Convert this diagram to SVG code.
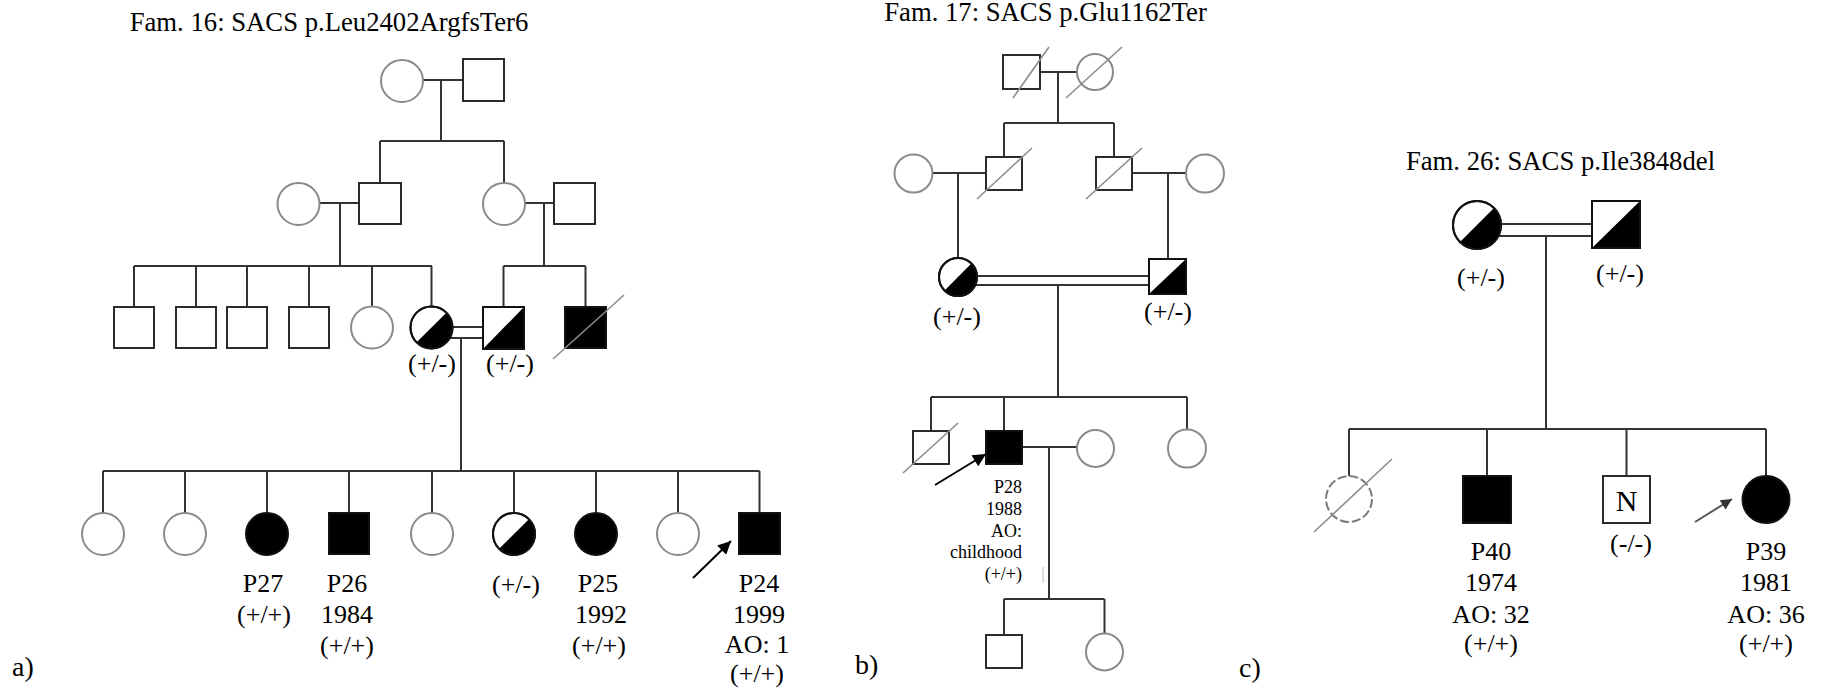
<svg xmlns="http://www.w3.org/2000/svg" width="1824" height="690" viewBox="0 0 1824 690">
  <style>
    text { font-family: "Liberation Serif", "Times New Roman", serif; fill: #000; }
    .title { font-size: 26.7px; text-anchor: middle; }
    .lbl { font-size: 26px; text-anchor: middle; }
    .small { font-size: 18px; text-anchor: end; }
    .panel { font-size: 28px; }
    .line { stroke: #333; stroke-width: 2; fill: none; }
    .sq { fill: #fff; stroke: #2b2b2b; stroke-width: 2; }
    .ci { fill: #fff; stroke: #8a8a8a; stroke-width: 2; }
    .ci-dark { fill: #fff; stroke: #1a1a1a; stroke-width: 2; }
    .filled { fill: #000; stroke: #111; stroke-width: 2; }
    .half { fill: #000; stroke: none; }
    .slash { stroke: #8c8c8c; stroke-width: 1.6; }
    .dashed { fill: #fff; stroke: #7a7a7a; stroke-width: 2; stroke-dasharray: 9 3; }
    .arrow { stroke: #000; stroke-width: 2; marker-end: url(#head); }
    .arrow-grey { stroke: #555; stroke-width: 2; marker-end: url(#head-grey); }
  </style>
  <defs>
    <marker id="head" viewBox="0 0 10 10" refX="10" refY="5" markerWidth="17" markerHeight="13" markerUnits="userSpaceOnUse" orient="auto">
      <path d="M0,0 L10,5 L0,10 z" fill="#000"/>
    </marker>
    <marker id="head-grey" viewBox="0 0 10 10" refX="10" refY="5" markerWidth="14" markerHeight="11" markerUnits="userSpaceOnUse" orient="auto">
      <path d="M0,0 L10,5 L0,10 z" fill="#333"/>
    </marker>
  </defs>
  <rect width="1824" height="690" fill="#fff"/>

  <!-- ===================== Family 16 ===================== -->
  <text class="title" x="329" y="31">Fam. 16: SACS p.Leu2402ArgfsTer6</text>
  <text class="panel" x="12" y="676">a)</text>

  <g id="f16-connectors">
    <line class="line" x1="423" y1="80" x2="463" y2="80"/>
    <line class="line" x1="441" y1="80" x2="441" y2="141"/>
    <line class="line" x1="380" y1="141" x2="504" y2="141"/>
    <line class="line" x1="380" y1="141" x2="380" y2="183"/>
    <line class="line" x1="504" y1="141" x2="504" y2="183"/>
    <line class="line" x1="319.5" y1="203" x2="359" y2="203"/>
    <line class="line" x1="340" y1="203" x2="340" y2="266"/>
    <line class="line" x1="525" y1="203" x2="554" y2="203"/>
    <line class="line" x1="544" y1="203" x2="544" y2="266"/>
    <line class="line" x1="134" y1="266" x2="432" y2="266"/>
    <line class="line" x1="134" y1="266" x2="134" y2="307"/>
    <line class="line" x1="196" y1="266" x2="196" y2="307"/>
    <line class="line" x1="247" y1="266" x2="247" y2="307"/>
    <line class="line" x1="309" y1="266" x2="309" y2="307"/>
    <line class="line" x1="372" y1="266" x2="372" y2="306.5"/>
    <line class="line" x1="431.5" y1="266" x2="431.5" y2="306.5"/>
    <line class="line" x1="503.5" y1="266" x2="585.5" y2="266"/>
    <line class="line" x1="503.5" y1="266" x2="503.5" y2="307"/>
    <line class="line" x1="585.5" y1="266" x2="585.5" y2="307"/>
    <line class="line" x1="452.5" y1="327" x2="483" y2="327"/>
    <line class="line" x1="450" y1="338" x2="483" y2="338"/>
    <line class="line" x1="461" y1="338" x2="461" y2="471"/>
    <line class="line" x1="103" y1="471" x2="759.5" y2="471"/>
    <line class="line" x1="103" y1="471" x2="103" y2="513"/>
    <line class="line" x1="185" y1="471" x2="185" y2="513"/>
    <line class="line" x1="267" y1="471" x2="267" y2="513"/>
    <line class="line" x1="349" y1="471" x2="349" y2="513"/>
    <line class="line" x1="432" y1="471" x2="432" y2="513"/>
    <line class="line" x1="514" y1="471" x2="514" y2="513"/>
    <line class="line" x1="596" y1="471" x2="596" y2="513"/>
    <line class="line" x1="678" y1="471" x2="678" y2="513"/>
    <line class="line" x1="759.5" y1="471" x2="759.5" y2="513"/>
    <line class="arrow" x1="693" y1="578" x2="731" y2="541"/>
  </g>

  <g id="f16-I-1"><circle class="ci" cx="402" cy="81" r="21"/></g>
  <g id="f16-I-2"><rect class="sq" x="463" y="59" width="41" height="42"/></g>

  <g id="f16-II-1"><circle class="ci" cx="298.5" cy="204" r="21"/></g>
  <g id="f16-II-2"><rect class="sq" x="359" y="183" width="42" height="41"/></g>
  <g id="f16-II-3"><circle class="ci" cx="504" cy="204" r="21"/></g>
  <g id="f16-II-4"><rect class="sq" x="554" y="183" width="41" height="41"/></g>

  <g id="f16-III-1"><rect class="sq" x="114" y="307" width="40" height="41"/></g>
  <g id="f16-III-2"><rect class="sq" x="176" y="307" width="40" height="41"/></g>
  <g id="f16-III-3"><rect class="sq" x="227" y="307" width="40" height="41"/></g>
  <g id="f16-III-4"><rect class="sq" x="289" y="307" width="40" height="41"/></g>
  <g id="f16-III-5"><circle class="ci" cx="372" cy="327.5" r="21"/></g>
  <g id="f16-III-6">
    <circle class="ci-dark" cx="431.5" cy="327.5" r="21"/>
    <path class="half" d="M416.65,342.35 A21,21 0 0 0 446.35,312.65 Z"/>
    <circle cx="431.5" cy="327.5" r="21" fill="none" stroke="#111" stroke-width="2"/>
    <text class="lbl" x="432" y="372">(+/-)</text>
  </g>
  <g id="f16-III-7">
    <rect class="sq" x="483" y="307" width="41" height="42"/>
    <path class="half" d="M483,349 L524,307 L524,349 Z"/>
    <rect x="483" y="307" width="41" height="42" fill="none" stroke="#111" stroke-width="2"/>
    <text class="lbl" x="510" y="372">(+/-)</text>
  </g>
  <g id="f16-III-8">
    <rect class="filled" x="565" y="307" width="41" height="41"/>
    <line class="slash" x1="553" y1="359" x2="624" y2="295"/>
  </g>

  <g id="f16-IV-1"><circle class="ci" cx="103" cy="534" r="21"/></g>
  <g id="f16-IV-2"><circle class="ci" cx="185" cy="534" r="21"/></g>
  <g id="f16-IV-3">
    <circle class="filled" cx="267" cy="534" r="21"/>
    <text class="lbl" x="263" y="592">P27</text>
    <text class="lbl" x="264" y="623">(+/+)</text>
  </g>
  <g id="f16-IV-4">
    <rect class="filled" x="329" y="513" width="40" height="41"/>
    <text class="lbl" x="347" y="592">P26</text>
    <text class="lbl" x="347" y="623">1984</text>
    <text class="lbl" x="347" y="654">(+/+)</text>
  </g>
  <g id="f16-IV-5"><circle class="ci" cx="432" cy="534" r="21"/></g>
  <g id="f16-IV-6">
    <circle class="ci-dark" cx="514" cy="534" r="21"/>
    <path class="half" d="M499.15,548.85 A21,21 0 0 0 528.85,519.15 Z"/>
    <circle cx="514" cy="534" r="21" fill="none" stroke="#111" stroke-width="2"/>
    <text class="lbl" x="516" y="593">(+/-)</text>
  </g>
  <g id="f16-IV-7">
    <circle class="filled" cx="596" cy="534" r="21"/>
    <text class="lbl" x="598" y="592">P25</text>
    <text class="lbl" x="601" y="623">1992</text>
    <text class="lbl" x="599" y="654">(+/+)</text>
  </g>
  <g id="f16-IV-8"><circle class="ci" cx="678" cy="534" r="21"/></g>
  <g id="f16-IV-9">
    <rect class="filled" x="739" y="513" width="41" height="41"/>
    <text class="lbl" x="759" y="592">P24</text>
    <text class="lbl" x="759" y="623">1999</text>
    <text class="lbl" x="757" y="653">AO: 1</text>
    <text class="lbl" x="757" y="682">(+/+)</text>
  </g>

  <!-- ===================== Family 17 ===================== -->
  <text class="title" x="1045.5" y="21">Fam. 17: SACS p.Glu1162Ter</text>
  <text class="panel" x="855" y="674">b)</text>

  <g id="f17-connectors">
    <line class="line" x1="1040" y1="72" x2="1077" y2="72"/>
    <line class="line" x1="1058" y1="72" x2="1058" y2="123"/>
    <line class="line" x1="1004" y1="123" x2="1114" y2="123"/>
    <line class="line" x1="1004" y1="123" x2="1004" y2="157"/>
    <line class="line" x1="1114" y1="123" x2="1114" y2="157"/>
    <line class="line" x1="932.5" y1="173" x2="986" y2="173"/>
    <line class="line" x1="958" y1="173" x2="958" y2="258"/>
    <line class="line" x1="1132" y1="173" x2="1186" y2="173"/>
    <line class="line" x1="1168" y1="173" x2="1168" y2="259"/>
    <line class="line" x1="977" y1="276" x2="1149" y2="276"/>
    <line class="line" x1="975" y1="285" x2="1149" y2="285"/>
    <line class="line" x1="1058" y1="285" x2="1058" y2="397"/>
    <line class="line" x1="931" y1="397" x2="1187" y2="397"/>
    <line class="line" x1="931" y1="397" x2="931" y2="431"/>
    <line class="line" x1="1004" y1="397" x2="1004" y2="431"/>
    <line class="line" x1="1187" y1="397" x2="1187" y2="430"/>
    <line class="line" x1="1022" y1="447" x2="1077" y2="447"/>
    <line class="line" x1="1049" y1="447" x2="1049" y2="599"/>
    <line class="line" x1="1004" y1="599" x2="1104.5" y2="599"/>
    <line class="line" x1="1004" y1="599" x2="1004" y2="635"/>
    <line class="line" x1="1104.5" y1="599" x2="1104.5" y2="633.5"/>
    <line x1="1043" y1="567" x2="1043" y2="583" stroke="#bbb" stroke-width="1"/>
    <line class="arrow" x1="935" y1="485" x2="986" y2="454"/>
  </g>

  <g id="f17-I-1">
    <rect class="sq" x="1003" y="55" width="37" height="34"/>
    <line class="slash" x1="1013" y1="98" x2="1049" y2="47"/>
  </g>
  <g id="f17-I-2">
    <circle class="ci" cx="1095" cy="72" r="18"/>
    <line class="slash" x1="1066" y1="98" x2="1122" y2="47"/>
  </g>
  <g id="f17-II-1"><circle class="ci" cx="913.5" cy="173.5" r="19"/></g>
  <g id="f17-II-2">
    <rect class="sq" x="986" y="157" width="36" height="33"/>
    <line class="slash" x1="977" y1="199" x2="1032" y2="148"/>
  </g>
  <g id="f17-II-3">
    <rect class="sq" x="1096" y="157" width="36" height="33"/>
    <line class="slash" x1="1086" y1="199" x2="1142" y2="148"/>
  </g>
  <g id="f17-II-4"><circle class="ci" cx="1205" cy="173.5" r="19"/></g>
  <g id="f17-III-1">
    <circle class="ci-dark" cx="958" cy="277" r="19"/>
    <path class="half" d="M944.57,290.43 A19,19 0 0 0 971.43,263.57 Z"/>
    <circle cx="958" cy="277" r="19" fill="none" stroke="#111" stroke-width="2"/>
    <text class="lbl" x="957" y="325">(+/-)</text>
  </g>
  <g id="f17-III-2">
    <rect class="sq" x="1149" y="259" width="37" height="35"/>
    <path class="half" d="M1149,294 L1186,259 L1186,294 Z"/>
    <rect x="1149" y="259" width="37" height="35" fill="none" stroke="#111" stroke-width="2"/>
    <text class="lbl" x="1168" y="320">(+/-)</text>
  </g>
  <g id="f17-IV-1">
    <rect class="sq" x="913" y="431" width="36" height="33"/>
    <line class="slash" x1="903" y1="473" x2="958" y2="423"/>
  </g>
  <g id="f17-IV-2">
    <rect class="filled" x="986" y="431" width="36" height="33"/>
    <text class="small" x="1022" y="493">P28</text>
    <text class="small" x="1022" y="515">1988</text>
    <text class="small" x="1022" y="537">AO:</text>
    <text class="small" x="1022" y="558">childhood</text>
    <text class="small" x="1022" y="580">(+/+)</text>
  </g>
  <g id="f17-IV-3"><circle class="ci" cx="1095.5" cy="448.5" r="18.5"/></g>
  <g id="f17-IV-4"><circle class="ci" cx="1187" cy="448.5" r="19"/></g>
  <g id="f17-V-1"><rect class="sq" x="986" y="635" width="36" height="33"/></g>
  <g id="f17-V-2"><circle class="ci" cx="1104.5" cy="652" r="18.5"/></g>

  <!-- ===================== Family 26 ===================== -->
  <text class="title" x="1560.5" y="170">Fam. 26: SACS p.Ile3848del</text>
  <text class="panel" x="1239" y="677">c)</text>

  <g id="f26-connectors">
    <line class="line" x1="1501" y1="224" x2="1592" y2="224"/>
    <line class="line" x1="1498" y1="236" x2="1592" y2="236"/>
    <line class="line" x1="1546" y1="236" x2="1546" y2="429"/>
    <line class="line" x1="1349" y1="429" x2="1766" y2="429"/>
    <line class="line" x1="1349" y1="429" x2="1349" y2="476"/>
    <line class="line" x1="1487" y1="429" x2="1487" y2="476"/>
    <line class="line" x1="1626.5" y1="429" x2="1626.5" y2="476"/>
    <line class="line" x1="1766" y1="429" x2="1766" y2="476"/>
    <line class="arrow-grey" x1="1695" y1="522" x2="1732" y2="499"/>
  </g>

  <g id="f26-I-1">
    <circle class="ci-dark" cx="1477" cy="225" r="24"/>
    <path class="half" d="M1460.03,241.97 A24,24 0 0 0 1493.97,208.03 Z"/>
    <circle cx="1477" cy="225" r="24" fill="none" stroke="#111" stroke-width="2"/>
    <text class="lbl" x="1481" y="286">(+/-)</text>
  </g>
  <g id="f26-I-2">
    <rect class="sq" x="1592" y="201" width="48" height="47"/>
    <path class="half" d="M1592,248 L1640,201 L1640,248 Z"/>
    <rect x="1592" y="201" width="48" height="47" fill="none" stroke="#111" stroke-width="2"/>
    <text class="lbl" x="1620" y="282">(+/-)</text>
  </g>
  <g id="f26-II-1">
    <circle class="dashed" cx="1349" cy="499" r="23"/>
    <line class="slash" x1="1314" y1="532" x2="1392" y2="459"/>
  </g>
  <g id="f26-II-2">
    <rect class="filled" x="1463" y="476" width="48" height="47"/>
    <text class="lbl" x="1491" y="560">P40</text>
    <text class="lbl" x="1491" y="591">1974</text>
    <text class="lbl" x="1491" y="623">AO: 32</text>
    <text class="lbl" x="1491" y="652">(+/+)</text>
  </g>
  <g id="f26-II-3">
    <rect class="sq" x="1603" y="476" width="47" height="47"/>
    <text x="1626.5" y="511" font-size="30" text-anchor="middle">N</text>
    <text class="lbl" x="1631" y="552">(-/-)</text>
  </g>
  <g id="f26-II-4">
    <circle class="filled" cx="1766" cy="499.5" r="23.5"/>
    <text class="lbl" x="1766" y="560">P39</text>
    <text class="lbl" x="1766" y="591">1981</text>
    <text class="lbl" x="1766" y="623">AO: 36</text>
    <text class="lbl" x="1766" y="652">(+/+)</text>
  </g>
</svg>
